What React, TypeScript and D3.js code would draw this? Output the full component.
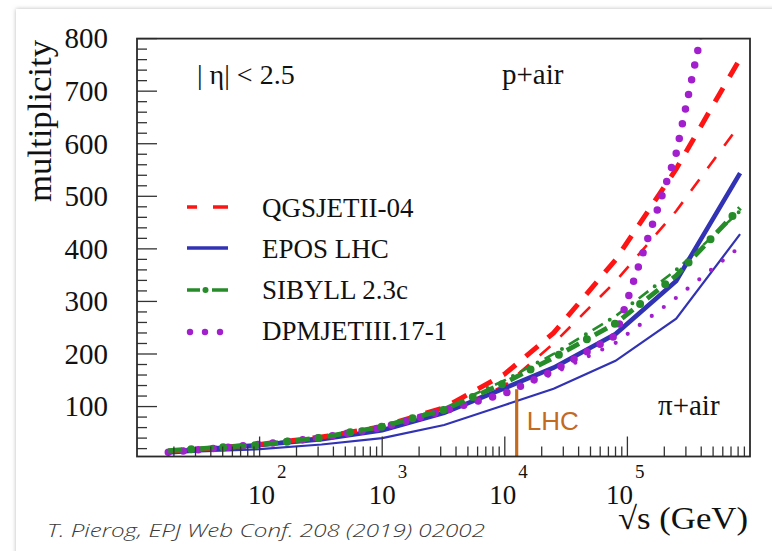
import React from "react";
import * as d3 from "d3";

const W = 772;
const H = 551;

// √s (GeV) at which every model curve is tabulated
const energies = [18, 32, 100, 320, 1000, 3200, 10000, 25000, 80000, 250000, 830000];

// charged multiplicity in |η| < 2.5 — p+air (thick) and π+air (thin)
const qgsjetP = [15, 19, 28, 42, 62, 98, 162, 240, 379, 552, 762];
const qgsjetPi = [15, 18, 26, 38, 55, 88, 140, 220, 338, 472, 637];
const eposP = [13.5, 18, 27, 38, 55, 88, 135, 174, 238, 339, 544];
const eposPi = [10.6, 14.5, 19, 27.8, 40, 65, 103, 134, 187, 267, 428];
const sibyllP = [16, 20, 27, 41, 62, 94, 145, 193, 258, 349, 478];
const sibyllPi = [16, 20, 28, 42, 63, 97, 150, 200, 272, 360, 472];
const dpmjetP = [13, 18, 28, 41, 60, 92, 125, 168, 235, 582, 1160];
const dpmjetPi = [14, 18, 26, 38, 57, 88, 124, 163, 221, 307, 404];

const modelNames = ["QGSJETII-04", "EPOS LHC", "SIBYLL 2.3c", "DPMJETIII.17-1"];
const yTickValues = [100, 200, 300, 400, 500, 600, 700, 800];
const xDecades = [2, 3, 4, 5];
const lhcEnergy = 12500;
const lhcTop = 133;

const RED = "#ff1414";
const BLUE = "#3232b4";
const GREEN = "#268c2a";
const PURPLE = "#a21fce";
const LHC = "#c46a1e";
const SERIF = "'Liberation Serif', 'Times New Roman', serif";

export default function App() {
  const left = 137;
  const right = 750;
  const top = 38.6;
  const bottom = 456.5;

  const x = d3.scaleLog().domain([10, 1e6]).range([left, right]);
  const y = d3.scaleLinear().domain([5, 800]).range([bottom, top]);
  const line = d3
    .line<number>()
    .x((_, i) => x(energies[i]))
    .y((d) => y(d));

  const yMinor = d3.range(20, 800, 20).filter((v) => v % 100 !== 0);
  const xMinor: number[] = [];
  for (let n = 1; n <= 5; n++) for (let k = 2; k <= 9; k++) xMinor.push(k * Math.pow(10, n));

  const labelShift = [2, 0, -2, -8];

  const legendY = [207, 248, 290, 332];
  const legendText = [217, 258, 299, 340];

  return (
    <svg width={W} height={H} viewBox={`0 0 ${W} ${H}`} style={{ position: "absolute", left: 0, top: 0 }}>
      <style>{`body{margin:0}`}</style>
      <defs>
        <filter id="cardShadow" x="-5%" y="-5%" width="110%" height="110%">
          <feDropShadow dx="0" dy="0" stdDeviation="2" floodColor="#9a9a9a" floodOpacity="0.7" />
        </filter>
        <clipPath id="plotArea">
          <rect x={left} y={top} width={right - left} height={bottom - top} />
        </clipPath>
      </defs>
      <rect x={0} y={0} width={W} height={H} fill="#ffffff" />
      <rect x={16} y={9} width={W + 40} height={H + 40} fill="#ffffff" filter="url(#cardShadow)" />

      {/* curves */}
      <g clipPath="url(#plotArea)" fill="none">
        <path d={line(eposPi) || ""} stroke={BLUE} strokeWidth={2.2} />
        <path d={line(qgsjetPi) || ""} stroke={RED} strokeWidth={2.6} strokeDasharray="14 14" />
        <path d={line(sibyllPi) || ""} stroke={GREEN} strokeWidth={2.6} strokeDasharray="12 16" />
        <path d={line(sibyllPi) || ""} stroke={GREEN} strokeWidth={4} strokeDasharray="0 28" strokeDashoffset={-20} strokeLinecap="round" />
        <path d={line(dpmjetPi) || ""} stroke={PURPLE} strokeWidth={4.2} strokeDasharray="0 15" strokeLinecap="round" />

        <path d={line(eposP) || ""} stroke={BLUE} strokeWidth={4.6} />
        <path d={line(qgsjetP) || ""} stroke={RED} strokeWidth={5} strokeDasharray="16 13" />
        <path d={line(dpmjetP) || ""} stroke={PURPLE} strokeWidth={7.5} strokeDasharray="0 15" strokeLinecap="round" />
        <path d={line(sibyllP) || ""} stroke={GREEN} strokeWidth={4.8} strokeDasharray="14 18" />
        <path d={line(sibyllP) || ""} stroke={GREEN} strokeWidth={8} strokeDasharray="0 32" strokeDashoffset={-23} strokeLinecap="round" />
      </g>

      {/* LHC energy marker */}
      <line x1={x(lhcEnergy)} x2={x(lhcEnergy)} y1={bottom} y2={y(lhcTop)} stroke={LHC} strokeWidth={3.2} />
      <text x={x(lhcEnergy) + 10} y={430} fill={LHC} fontFamily="'Liberation Sans', Arial, sans-serif" fontSize={26}>
        LHC
      </text>

      {/* ticks */}
      <g stroke="#333" strokeWidth={1.3}>
        {yTickValues.map((v) => (
          <line key={`ym${v}`} x1={left} x2={left + 20} y1={y(v)} y2={y(v)} />
        ))}
        {yMinor.map((v) => (
          <line key={`yn${v}`} x1={left} x2={left + 10} y1={y(v)} y2={y(v)} />
        ))}
        {xDecades.map((d) => (
          <line key={`xm${d}`} x1={x(Math.pow(10, d))} x2={x(Math.pow(10, d))} y1={bottom} y2={bottom - 20} />
        ))}
        {xMinor.map((v) => (
          <line key={`xn${v}`} x1={x(v)} x2={x(v)} y1={bottom} y2={bottom - 10} />
        ))}
      </g>

      {/* frame */}
      <rect x={left} y={top} width={right - left} height={bottom - top} fill="none" stroke="#2a2a2a" strokeWidth={1.8} />

      {/* y tick labels */}
      <g fontFamily={SERIF} fontSize={29} fill="#111" textAnchor="end">
        {yTickValues.map((v) => (
          <text key={`yl${v}`} x={108} y={y(v)} dy="0.34em">
            {v}
          </text>
        ))}
      </g>

      {/* x tick labels */}
      <g fontFamily={SERIF} fill="#111">
        {xDecades.map((d, i) => {
          const cx = x(Math.pow(10, d)) + labelShift[i];
          return (
            <g key={`xl${d}`}>
              <text x={cx} y={504} fontSize={27} textAnchor="middle">
                10
              </text>
              <text x={cx + 15.5} y={478} fontSize={19}>
                {d}
              </text>
            </g>
          );
        })}
      </g>

      {/* axis titles */}
      <text
        transform="translate(51,40) rotate(-90)"
        textAnchor="end"
        fontFamily={SERIF}
        fontSize={33}
        fill="#111"
        textLength={162}
        lengthAdjust="spacingAndGlyphs"
      >
        multiplicity
      </text>
      <text x={748} y={529} textAnchor="end" fontFamily={SERIF} fontSize={32} fill="#111" textLength={130} lengthAdjust="spacingAndGlyphs">
        √s (GeV)
      </text>

      {/* annotations */}
      <g fontFamily={SERIF} fontSize={28} fill="#111">
        <text x={197} y={84}>| η| &lt; 2.5</text>
        <text x={502} y={84} fontSize={29}>p+air</text>
        <text x={658} y={415} fontSize={29}>π+air</text>
      </g>

      {/* legend */}
      <g>
        <line x1={187} x2={228} y1={legendY[0]} y2={legendY[0]} stroke={RED} strokeWidth={3.4} strokeDasharray="10 16 15" />
        <line x1={187} x2={228} y1={legendY[1]} y2={legendY[1]} stroke={BLUE} strokeWidth={3.6} />
        <line x1={187} x2={228} y1={legendY[2]} y2={legendY[2]} stroke={GREEN} strokeWidth={3.4} strokeDasharray="13 12 16" />
        <circle cx={205.5} cy={legendY[2]} r={3} fill={GREEN} />
        {[190, 205, 220].map((cx) => (
          <circle key={`pd${cx}`} cx={cx} cy={legendY[3]} r={3.2} fill={PURPLE} />
        ))}
        {modelNames.map((name, i) => (
          <text key={name} x={262} y={legendText[i]} fontFamily={SERIF} fontSize={27} fill="#111">
            {name}
          </text>
        ))}
      </g>

      {/* citation */}
      <text
        x={47}
        y={537}
        fontFamily="'Open Sans', 'Noto Sans', sans-serif"
        fontStyle="italic"
        fontWeight={300}
        fontSize={19}
        fill="#3a3a3a"
        textLength={438}
        lengthAdjust="spacingAndGlyphs"
      >
        T. Pierog, EPJ Web Conf. 208 (2019) 02002
      </text>
    </svg>
  );
}
